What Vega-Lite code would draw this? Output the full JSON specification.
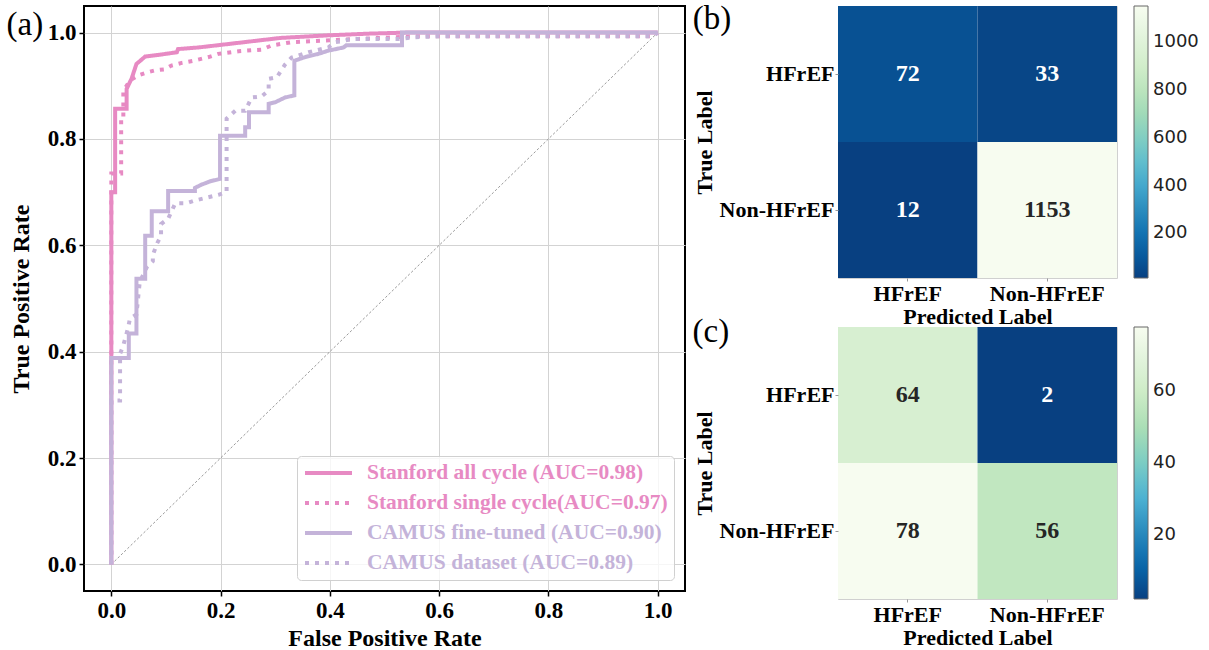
{
  "$schema": "https://vega.github.io/schema/vega-lite/v6.json",
  "background": "white",
  "padding": {"left": 5, "top": 2, "right": 5, "bottom": 5},
  "datasets": {
    "roc": [
      {"s": "Stanford all cycle (AUC=0.98)", "i": 0, "fpr": 0, "tpr": 0},
      {"s": "Stanford all cycle (AUC=0.98)", "i": 1, "fpr": 0, "tpr": 0.70},
      {"s": "Stanford all cycle (AUC=0.98)", "i": 2, "fpr": 0.007, "tpr": 0.70},
      {"s": "Stanford all cycle (AUC=0.98)", "i": 3, "fpr": 0.007, "tpr": 0.857},
      {"s": "Stanford all cycle (AUC=0.98)", "i": 4, "fpr": 0.028, "tpr": 0.857},
      {"s": "Stanford all cycle (AUC=0.98)", "i": 5, "fpr": 0.028, "tpr": 0.894},
      {"s": "Stanford all cycle (AUC=0.98)", "i": 6, "fpr": 0.034, "tpr": 0.907},
      {"s": "Stanford all cycle (AUC=0.98)", "i": 7, "fpr": 0.037, "tpr": 0.913},
      {"s": "Stanford all cycle (AUC=0.98)", "i": 8, "fpr": 0.046, "tpr": 0.941},
      {"s": "Stanford all cycle (AUC=0.98)", "i": 9, "fpr": 0.062, "tpr": 0.955},
      {"s": "Stanford all cycle (AUC=0.98)", "i": 10, "fpr": 0.086, "tpr": 0.958},
      {"s": "Stanford all cycle (AUC=0.98)", "i": 11, "fpr": 0.12, "tpr": 0.963},
      {"s": "Stanford all cycle (AUC=0.98)", "i": 12, "fpr": 0.122, "tpr": 0.969},
      {"s": "Stanford all cycle (AUC=0.98)", "i": 13, "fpr": 0.159, "tpr": 0.972},
      {"s": "Stanford all cycle (AUC=0.98)", "i": 14, "fpr": 0.21, "tpr": 0.978},
      {"s": "Stanford all cycle (AUC=0.98)", "i": 15, "fpr": 0.26, "tpr": 0.984},
      {"s": "Stanford all cycle (AUC=0.98)", "i": 16, "fpr": 0.31, "tpr": 0.99},
      {"s": "Stanford all cycle (AUC=0.98)", "i": 17, "fpr": 0.40, "tpr": 0.995},
      {"s": "Stanford all cycle (AUC=0.98)", "i": 18, "fpr": 0.47, "tpr": 0.998},
      {"s": "Stanford all cycle (AUC=0.98)", "i": 19, "fpr": 0.54, "tpr": 1.0},
      {"s": "Stanford all cycle (AUC=0.98)", "i": 20, "fpr": 1.0, "tpr": 1.0},
      {"s": "Stanford single cycle(AUC=0.97)", "i": 0, "fpr": 0, "tpr": 0},
      {"s": "Stanford single cycle(AUC=0.97)", "i": 1, "fpr": 0, "tpr": 0.735},
      {"s": "Stanford single cycle(AUC=0.97)", "i": 2, "fpr": 0.018, "tpr": 0.735},
      {"s": "Stanford single cycle(AUC=0.97)", "i": 3, "fpr": 0.018, "tpr": 0.84},
      {"s": "Stanford single cycle(AUC=0.97)", "i": 4, "fpr": 0.022, "tpr": 0.84},
      {"s": "Stanford single cycle(AUC=0.97)", "i": 5, "fpr": 0.022, "tpr": 0.89},
      {"s": "Stanford single cycle(AUC=0.97)", "i": 6, "fpr": 0.034, "tpr": 0.91},
      {"s": "Stanford single cycle(AUC=0.97)", "i": 7, "fpr": 0.05, "tpr": 0.92},
      {"s": "Stanford single cycle(AUC=0.97)", "i": 8, "fpr": 0.065, "tpr": 0.925},
      {"s": "Stanford single cycle(AUC=0.97)", "i": 9, "fpr": 0.08, "tpr": 0.929},
      {"s": "Stanford single cycle(AUC=0.97)", "i": 10, "fpr": 0.098, "tpr": 0.931},
      {"s": "Stanford single cycle(AUC=0.97)", "i": 11, "fpr": 0.11, "tpr": 0.938},
      {"s": "Stanford single cycle(AUC=0.97)", "i": 12, "fpr": 0.129, "tpr": 0.943},
      {"s": "Stanford single cycle(AUC=0.97)", "i": 13, "fpr": 0.15, "tpr": 0.947},
      {"s": "Stanford single cycle(AUC=0.97)", "i": 14, "fpr": 0.178, "tpr": 0.954},
      {"s": "Stanford single cycle(AUC=0.97)", "i": 15, "fpr": 0.196, "tpr": 0.96},
      {"s": "Stanford single cycle(AUC=0.97)", "i": 16, "fpr": 0.233, "tpr": 0.965},
      {"s": "Stanford single cycle(AUC=0.97)", "i": 17, "fpr": 0.275, "tpr": 0.968},
      {"s": "Stanford single cycle(AUC=0.97)", "i": 18, "fpr": 0.294, "tpr": 0.976},
      {"s": "Stanford single cycle(AUC=0.97)", "i": 19, "fpr": 0.33, "tpr": 0.982},
      {"s": "Stanford single cycle(AUC=0.97)", "i": 20, "fpr": 0.39, "tpr": 0.985},
      {"s": "Stanford single cycle(AUC=0.97)", "i": 21, "fpr": 0.45, "tpr": 0.988},
      {"s": "Stanford single cycle(AUC=0.97)", "i": 22, "fpr": 0.514, "tpr": 0.991},
      {"s": "Stanford single cycle(AUC=0.97)", "i": 23, "fpr": 0.55, "tpr": 0.993},
      {"s": "Stanford single cycle(AUC=0.97)", "i": 24, "fpr": 0.99, "tpr": 0.993},
      {"s": "Stanford single cycle(AUC=0.97)", "i": 25, "fpr": 1.0, "tpr": 1.0},
      {"s": "CAMUS fine-tuned (AUC=0.90)", "i": 0, "fpr": 0, "tpr": 0},
      {"s": "CAMUS fine-tuned (AUC=0.90)", "i": 1, "fpr": 0, "tpr": 0.388},
      {"s": "CAMUS fine-tuned (AUC=0.90)", "i": 2, "fpr": 0.032, "tpr": 0.388},
      {"s": "CAMUS fine-tuned (AUC=0.90)", "i": 3, "fpr": 0.032, "tpr": 0.434},
      {"s": "CAMUS fine-tuned (AUC=0.90)", "i": 4, "fpr": 0.046, "tpr": 0.434},
      {"s": "CAMUS fine-tuned (AUC=0.90)", "i": 5, "fpr": 0.046, "tpr": 0.537},
      {"s": "CAMUS fine-tuned (AUC=0.90)", "i": 6, "fpr": 0.062, "tpr": 0.537},
      {"s": "CAMUS fine-tuned (AUC=0.90)", "i": 7, "fpr": 0.062, "tpr": 0.618},
      {"s": "CAMUS fine-tuned (AUC=0.90)", "i": 8, "fpr": 0.074, "tpr": 0.618},
      {"s": "CAMUS fine-tuned (AUC=0.90)", "i": 9, "fpr": 0.074, "tpr": 0.664},
      {"s": "CAMUS fine-tuned (AUC=0.90)", "i": 10, "fpr": 0.104, "tpr": 0.664},
      {"s": "CAMUS fine-tuned (AUC=0.90)", "i": 11, "fpr": 0.104, "tpr": 0.702},
      {"s": "CAMUS fine-tuned (AUC=0.90)", "i": 12, "fpr": 0.153, "tpr": 0.702},
      {"s": "CAMUS fine-tuned (AUC=0.90)", "i": 13, "fpr": 0.153, "tpr": 0.708},
      {"s": "CAMUS fine-tuned (AUC=0.90)", "i": 14, "fpr": 0.165, "tpr": 0.714},
      {"s": "CAMUS fine-tuned (AUC=0.90)", "i": 15, "fpr": 0.18, "tpr": 0.72},
      {"s": "CAMUS fine-tuned (AUC=0.90)", "i": 16, "fpr": 0.199, "tpr": 0.725},
      {"s": "CAMUS fine-tuned (AUC=0.90)", "i": 17, "fpr": 0.199, "tpr": 0.806},
      {"s": "CAMUS fine-tuned (AUC=0.90)", "i": 18, "fpr": 0.245, "tpr": 0.806},
      {"s": "CAMUS fine-tuned (AUC=0.90)", "i": 19, "fpr": 0.245, "tpr": 0.822},
      {"s": "CAMUS fine-tuned (AUC=0.90)", "i": 20, "fpr": 0.252, "tpr": 0.822},
      {"s": "CAMUS fine-tuned (AUC=0.90)", "i": 21, "fpr": 0.252, "tpr": 0.85},
      {"s": "CAMUS fine-tuned (AUC=0.90)", "i": 22, "fpr": 0.288, "tpr": 0.85},
      {"s": "CAMUS fine-tuned (AUC=0.90)", "i": 23, "fpr": 0.288, "tpr": 0.866},
      {"s": "CAMUS fine-tuned (AUC=0.90)", "i": 24, "fpr": 0.30, "tpr": 0.869},
      {"s": "CAMUS fine-tuned (AUC=0.90)", "i": 25, "fpr": 0.318, "tpr": 0.878},
      {"s": "CAMUS fine-tuned (AUC=0.90)", "i": 26, "fpr": 0.335, "tpr": 0.882},
      {"s": "CAMUS fine-tuned (AUC=0.90)", "i": 27, "fpr": 0.335, "tpr": 0.947},
      {"s": "CAMUS fine-tuned (AUC=0.90)", "i": 28, "fpr": 0.355, "tpr": 0.954},
      {"s": "CAMUS fine-tuned (AUC=0.90)", "i": 29, "fpr": 0.379, "tpr": 0.96},
      {"s": "CAMUS fine-tuned (AUC=0.90)", "i": 30, "fpr": 0.397, "tpr": 0.966},
      {"s": "CAMUS fine-tuned (AUC=0.90)", "i": 31, "fpr": 0.425, "tpr": 0.972},
      {"s": "CAMUS fine-tuned (AUC=0.90)", "i": 32, "fpr": 0.43, "tpr": 0.976},
      {"s": "CAMUS fine-tuned (AUC=0.90)", "i": 33, "fpr": 0.532, "tpr": 0.976},
      {"s": "CAMUS fine-tuned (AUC=0.90)", "i": 34, "fpr": 0.532, "tpr": 1.0},
      {"s": "CAMUS fine-tuned (AUC=0.90)", "i": 35, "fpr": 1.0, "tpr": 1.0},
      {"s": "CAMUS dataset (AUC=0.89)", "i": 0, "fpr": 0, "tpr": 0},
      {"s": "CAMUS dataset (AUC=0.89)", "i": 1, "fpr": 0, "tpr": 0.308},
      {"s": "CAMUS dataset (AUC=0.89)", "i": 2, "fpr": 0.016, "tpr": 0.308},
      {"s": "CAMUS dataset (AUC=0.89)", "i": 3, "fpr": 0.016, "tpr": 0.396},
      {"s": "CAMUS dataset (AUC=0.89)", "i": 4, "fpr": 0.022, "tpr": 0.412},
      {"s": "CAMUS dataset (AUC=0.89)", "i": 5, "fpr": 0.031, "tpr": 0.446},
      {"s": "CAMUS dataset (AUC=0.89)", "i": 6, "fpr": 0.034, "tpr": 0.462},
      {"s": "CAMUS dataset (AUC=0.89)", "i": 7, "fpr": 0.046, "tpr": 0.47},
      {"s": "CAMUS dataset (AUC=0.89)", "i": 8, "fpr": 0.052, "tpr": 0.531},
      {"s": "CAMUS dataset (AUC=0.89)", "i": 9, "fpr": 0.065, "tpr": 0.559},
      {"s": "CAMUS dataset (AUC=0.89)", "i": 10, "fpr": 0.076, "tpr": 0.57},
      {"s": "CAMUS dataset (AUC=0.89)", "i": 11, "fpr": 0.076, "tpr": 0.582},
      {"s": "CAMUS dataset (AUC=0.89)", "i": 12, "fpr": 0.084, "tpr": 0.604},
      {"s": "CAMUS dataset (AUC=0.89)", "i": 13, "fpr": 0.091, "tpr": 0.618},
      {"s": "CAMUS dataset (AUC=0.89)", "i": 14, "fpr": 0.091, "tpr": 0.64},
      {"s": "CAMUS dataset (AUC=0.89)", "i": 15, "fpr": 0.104, "tpr": 0.65},
      {"s": "CAMUS dataset (AUC=0.89)", "i": 16, "fpr": 0.117, "tpr": 0.679},
      {"s": "CAMUS dataset (AUC=0.89)", "i": 17, "fpr": 0.137, "tpr": 0.679},
      {"s": "CAMUS dataset (AUC=0.89)", "i": 18, "fpr": 0.152, "tpr": 0.684},
      {"s": "CAMUS dataset (AUC=0.89)", "i": 19, "fpr": 0.196, "tpr": 0.695},
      {"s": "CAMUS dataset (AUC=0.89)", "i": 20, "fpr": 0.211, "tpr": 0.70},
      {"s": "CAMUS dataset (AUC=0.89)", "i": 21, "fpr": 0.211, "tpr": 0.838},
      {"s": "CAMUS dataset (AUC=0.89)", "i": 22, "fpr": 0.227, "tpr": 0.853},
      {"s": "CAMUS dataset (AUC=0.89)", "i": 23, "fpr": 0.245, "tpr": 0.853},
      {"s": "CAMUS dataset (AUC=0.89)", "i": 24, "fpr": 0.257, "tpr": 0.878},
      {"s": "CAMUS dataset (AUC=0.89)", "i": 25, "fpr": 0.275, "tpr": 0.88},
      {"s": "CAMUS dataset (AUC=0.89)", "i": 26, "fpr": 0.288, "tpr": 0.891},
      {"s": "CAMUS dataset (AUC=0.89)", "i": 27, "fpr": 0.288, "tpr": 0.913},
      {"s": "CAMUS dataset (AUC=0.89)", "i": 28, "fpr": 0.303, "tpr": 0.916},
      {"s": "CAMUS dataset (AUC=0.89)", "i": 29, "fpr": 0.318, "tpr": 0.94},
      {"s": "CAMUS dataset (AUC=0.89)", "i": 30, "fpr": 0.33, "tpr": 0.953},
      {"s": "CAMUS dataset (AUC=0.89)", "i": 31, "fpr": 0.361, "tpr": 0.963},
      {"s": "CAMUS dataset (AUC=0.89)", "i": 32, "fpr": 0.397, "tpr": 0.972},
      {"s": "CAMUS dataset (AUC=0.89)", "i": 33, "fpr": 0.41, "tpr": 0.982},
      {"s": "CAMUS dataset (AUC=0.89)", "i": 34, "fpr": 0.428, "tpr": 0.985},
      {"s": "CAMUS dataset (AUC=0.89)", "i": 35, "fpr": 0.44, "tpr": 0.988},
      {"s": "CAMUS dataset (AUC=0.89)", "i": 36, "fpr": 0.526, "tpr": 0.988},
      {"s": "CAMUS dataset (AUC=0.89)", "i": 37, "fpr": 0.55, "tpr": 0.991},
      {"s": "CAMUS dataset (AUC=0.89)", "i": 38, "fpr": 0.6, "tpr": 0.993},
      {"s": "CAMUS dataset (AUC=0.89)", "i": 39, "fpr": 0.99, "tpr": 0.993},
      {"s": "CAMUS dataset (AUC=0.89)", "i": 40, "fpr": 1.0, "tpr": 1.0}
    ],
    "diag": [{"fpr": 0, "tpr": 0}, {"fpr": 1, "tpr": 1}],
    "cmb": [
      {"t": "HFrEF", "p": "HFrEF", "n": 72},
      {"t": "HFrEF", "p": "Non-HFrEF", "n": 33},
      {"t": "Non-HFrEF", "p": "HFrEF", "n": 12},
      {"t": "Non-HFrEF", "p": "Non-HFrEF", "n": 1153}
    ],
    "cmc": [
      {"t": "HFrEF", "p": "HFrEF", "n": 64},
      {"t": "HFrEF", "p": "Non-HFrEF", "n": 2},
      {"t": "Non-HFrEF", "p": "HFrEF", "n": 78},
      {"t": "Non-HFrEF", "p": "Non-HFrEF", "n": 56}
    ]
  },
  "bounds": "flush",
  "spacing": 153,
  "resolve": {
    "scale": {"x": "independent", "y": "independent", "color": "independent", "strokeDash": "independent"},
    "legend": {"color": "independent", "strokeDash": "independent"},
    "axis": {"x": "independent", "y": "independent"}
  },
  "hconcat": [
    {
      "width": 601,
      "height": 585,
      "view": {"stroke": "black", "strokeWidth": 2},
      "title": {"text": "(a)", "orient": "left", "anchor": "end", "frame": "group", "angle": 0, "align": "left", "baseline": "top", "offset": -34, "dy": 3, "font": "Liberation Serif", "fontSize": 33, "fontWeight": "normal", "color": "black"},
      "layer": [
        {
          "data": {"name": "diag"},
          "mark": {"type": "line", "color": "#808080", "strokeWidth": 0.8, "strokeDash": [2.5, 2]},
          "encoding": {
            "x": {"field": "fpr", "type": "quantitative", "title": "False Positive Rate"},
            "y": {"field": "tpr", "type": "quantitative", "title": "True Positive Rate"}
          }
        },
        {
          "data": {"name": "roc"},
          "mark": {"type": "line", "strokeWidth": 4, "strokeCap": "butt", "strokeJoin": "miter", "clip": true},
          "encoding": {
            "x": {"field": "fpr", "type": "quantitative", "title": "False Positive Rate",
              "scale": {"domain": [-0.05, 1.05], "nice": false, "zero": false},
              "axis": {"values": [0, 0.2, 0.4, 0.6, 0.8, 1.0], "format": ".1f", "labelFontSize": 23, "titleFontSize": 24, "grid": true, "gridColor": "#d3d3d3", "gridWidth": 1, "domain": false, "tickColor": "black", "tickSize": 5, "tickWidth": 1.5, "labelPadding": 3, "titlePadding": 4, "labelFlush": false}},
            "y": {"field": "tpr", "type": "quantitative", "title": "True Positive Rate",
              "scale": {"domain": [-0.05, 1.05], "nice": false, "zero": false},
              "axis": {"values": [0, 0.2, 0.4, 0.6, 0.8, 1.0], "format": ".1f", "labelFontSize": 23, "titleFontSize": 24, "grid": true, "gridColor": "#d3d3d3", "gridWidth": 1, "domain": false, "tickColor": "black", "tickSize": 5, "tickWidth": 1.5, "labelPadding": 3, "titlePadding": 14, "labelFlush": false}},
            "order": {"field": "i", "type": "quantitative"},
            "color": {"field": "s", "type": "nominal",
              "scale": {"domain": ["Stanford all cycle (AUC=0.98)", "Stanford single cycle(AUC=0.97)", "CAMUS fine-tuned (AUC=0.90)", "CAMUS dataset (AUC=0.89)"], "range": ["#e78ac3", "#e78ac3", "#c4b3d9", "#c4b3d9"]},
              "legend": {"title": null, "orient": "bottom-right", "offset": 11, "padding": 6, "fillColor": "rgba(255,255,255,0.8)", "strokeColor": "#d0d0d0", "cornerRadius": 4, "symbolType": "stroke", "symbolSize": 2209, "symbolStrokeWidth": 4, "clipHeight": 22, "rowPadding": 8, "labelOffset": 13, "labelFont": "Liberation Serif", "labelFontSize": 21.5, "labelFontWeight": "bold", "labelLimit": 400,
                "encode": {"labels": {"update": {"fill": {"signal": "indexof(datum.label, 'CAMUS') >= 0 ? '#c4b3d9' : '#e78ac3'"}}}}}},
            "strokeDash": {"field": "s", "type": "nominal",
              "scale": {"domain": ["Stanford all cycle (AUC=0.98)", "Stanford single cycle(AUC=0.97)", "CAMUS fine-tuned (AUC=0.90)", "CAMUS dataset (AUC=0.89)"], "range": [[1, 0], [4, 6], [1, 0], [4, 6]]},
              "legend": {"title": null, "orient": "bottom-right", "offset": 11, "padding": 6, "fillColor": "rgba(255,255,255,0.8)", "strokeColor": "#d0d0d0", "cornerRadius": 4, "symbolType": "stroke", "symbolSize": 2209, "symbolStrokeWidth": 4, "clipHeight": 22, "rowPadding": 8, "labelOffset": 13, "labelFont": "Liberation Serif", "labelFontSize": 21.5, "labelFontWeight": "bold", "labelLimit": 400,
                "encode": {"labels": {"update": {"fill": {"signal": "indexof(datum.label, 'CAMUS') >= 0 ? '#c4b3d9' : '#e78ac3'"}}}}}}
          }
        }
      ]
    },
    {
      "bounds": "flush",
      "spacing": 49,
      "resolve": {"scale": {"color": "independent"}, "legend": {"color": "independent"}},
      "vconcat": [
        {
          "width": 279,
          "height": 272,
          "data": {"name": "cmb"},
          "view": {"stroke": "#d0d0d0", "strokeWidth": 1},
          "title": {"text": "(b)", "orient": "left", "anchor": "end", "frame": "group", "angle": 0, "align": "left", "baseline": "top", "offset": -38, "dy": -3, "font": "Liberation Serif", "fontSize": 33, "fontWeight": "normal", "color": "black"},
          "encoding": {
            "x": {"field": "p", "type": "nominal", "sort": ["HFrEF", "Non-HFrEF"], "scale": {"paddingInner": 0, "paddingOuter": 0},
              "axis": {"title": "Predicted Label", "labelAngle": 0, "labelFontSize": 22, "titleFontSize": 22, "labelPadding": 2, "tickSize": 3, "tickColor": "#999999", "domain": false, "titlePadding": 2, "bandPosition": 0.5}},
            "y": {"field": "t", "type": "nominal", "sort": ["HFrEF", "Non-HFrEF"], "scale": {"paddingInner": 0, "paddingOuter": 0},
              "axis": {"title": "True Label", "labelFontSize": 22, "titleFontSize": 22, "labelPadding": 1, "tickSize": 3, "tickColor": "#999999", "domain": false, "titlePadding": 3, "bandPosition": 0.5}}
          },
          "layer": [
            {
              "mark": {"type": "rect"},
              "encoding": {
                "color": {"field": "n", "type": "quantitative",
                  "scale": {"domain": [12, 1153], "interpolate": "rgb", "range": ["#084081", "#0868ac", "#2b8cbe", "#4eb3d3", "#7bccc4", "#a8ddb5", "#ccebc5", "#e0f3db", "#f7fcf0"]},
                  "legend": {"title": null, "orient": "right", "direction": "vertical", "values": [200, 400, 600, 800, 1000], "format": "d", "gradientLength": 272, "gradientThickness": 14, "offset": 17, "labelFont": "DejaVu Sans", "labelFontSize": 18, "labelFontWeight": "normal", "labelColor": "#222222", "labelOffset": 5, "gradientStrokeColor": "#666666", "gradientStrokeWidth": 1}}
              }
            },
            {
              "mark": {"type": "text", "font": "Liberation Serif", "fontSize": 24, "fontWeight": "bold", "baseline": "middle", "align": "center"},
              "encoding": {
                "text": {"field": "n", "type": "quantitative", "format": "d"},
                "color": {"condition": {"test": "datum.n < 600", "value": "white"}, "value": "#262626"}
              }
            }
          ]
        },
        {
          "width": 279,
          "height": 272,
          "data": {"name": "cmc"},
          "view": {"stroke": "#d0d0d0", "strokeWidth": 1},
          "title": {"text": "(c)", "orient": "left", "anchor": "end", "frame": "group", "angle": 0, "align": "left", "baseline": "top", "offset": -36, "dy": -11, "font": "Liberation Serif", "fontSize": 33, "fontWeight": "normal", "color": "black"},
          "encoding": {
            "x": {"field": "p", "type": "nominal", "sort": ["HFrEF", "Non-HFrEF"], "scale": {"paddingInner": 0, "paddingOuter": 0},
              "axis": {"title": "Predicted Label", "labelAngle": 0, "labelFontSize": 22, "titleFontSize": 22, "labelPadding": 2, "tickSize": 3, "tickColor": "#999999", "domain": false, "titlePadding": 2, "bandPosition": 0.5}},
            "y": {"field": "t", "type": "nominal", "sort": ["HFrEF", "Non-HFrEF"], "scale": {"paddingInner": 0, "paddingOuter": 0},
              "axis": {"title": "True Label", "labelFontSize": 22, "titleFontSize": 22, "labelPadding": 1, "tickSize": 3, "tickColor": "#999999", "domain": false, "titlePadding": 3, "bandPosition": 0.5}}
          },
          "layer": [
            {
              "mark": {"type": "rect"},
              "encoding": {
                "color": {"field": "n", "type": "quantitative",
                  "scale": {"domain": [2, 78], "interpolate": "rgb", "range": ["#084081", "#0868ac", "#2b8cbe", "#4eb3d3", "#7bccc4", "#a8ddb5", "#ccebc5", "#e0f3db", "#f7fcf0"]},
                  "legend": {"title": null, "orient": "right", "direction": "vertical", "values": [20, 40, 60], "format": "d", "gradientLength": 272, "gradientThickness": 14, "offset": 17, "labelFont": "DejaVu Sans", "labelFontSize": 18, "labelFontWeight": "normal", "labelColor": "#222222", "labelOffset": 5, "gradientStrokeColor": "#666666", "gradientStrokeWidth": 1}}
              }
            },
            {
              "mark": {"type": "text", "font": "Liberation Serif", "fontSize": 24, "fontWeight": "bold", "baseline": "middle", "align": "center"},
              "encoding": {
                "text": {"field": "n", "type": "quantitative", "format": "d"},
                "color": {"condition": {"test": "datum.n < 40", "value": "white"}, "value": "#262626"}
              }
            }
          ]
        }
      ]
    }
  ],
  "config": {
    "font": "Liberation Serif",
    "axis": {"labelFont": "Liberation Serif", "labelFontWeight": "bold", "labelColor": "black", "titleFont": "Liberation Serif", "titleFontWeight": "bold", "titleColor": "black"},
    "legend": {"labelFont": "Liberation Serif"}
  }
}
